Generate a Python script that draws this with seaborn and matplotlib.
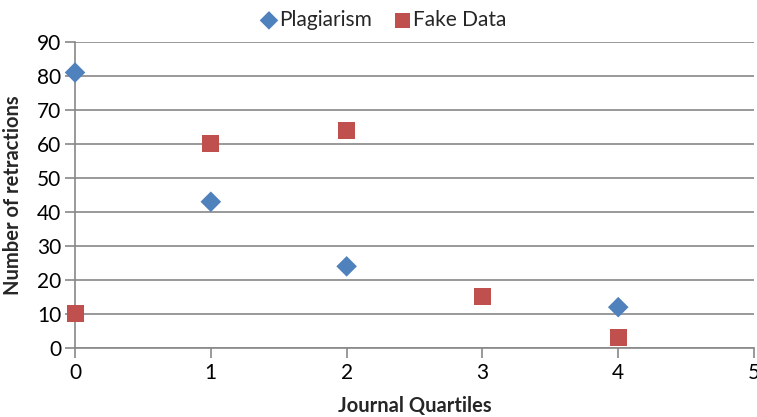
import numpy as np
import pandas as pd
import matplotlib.pyplot as plt
import seaborn as sns

# values
plag_x = [0, 1, 2, 4]
plag_y = [81, 43, 24, 12]
fake_x = [0, 1, 2, 3, 4]
fake_y = [10, 60, 64, 15, 3]
series = ['Plagiarism', 'Fake Data']

COLORS = {'Plagiarism': '#4F81BD', 'Fake Data': '#C0504D'}
MARKERS = {'Plagiarism': 'D', 'Fake Data': 's'}

df = pd.concat([
    pd.DataFrame({'x': plag_x, 'y': plag_y, 'series': 'Plagiarism'}),
    pd.DataFrame({'x': fake_x, 'y': fake_y, 'series': 'Fake Data'}),
])

sns.set_style('white')
plt.rcParams['font.family'] = ['Lato', 'DejaVu Sans']

fig = plt.figure(figsize=(7.57, 4.17), dpi=100)
ax = fig.add_axes([0.0991, 0.1655, 0.897, 0.734])

for name in series:
    sub = df[df['series'] == name]
    sns.scatterplot(data=sub, x='x', y='y', ax=ax, color=COLORS[name],
                    marker=MARKERS[name], s=150 if name == 'Fake Data' else 110,
                    edgecolor='none', label=name, zorder=3, clip_on=False)

ax.set_xlim(0, 5)
ax.set_ylim(0, 90)
ax.set_xticks(range(0, 6))
ax.set_yticks(range(0, 91, 10))
ax.grid(axis='y', color='#888888', linewidth=1.2)
ax.grid(axis='x', visible=False)
for s in ['top', 'right']:
    ax.spines[s].set_visible(False)
for s in ['left', 'bottom']:
    ax.spines[s].set_color('#888888')
    ax.spines[s].set_linewidth(1.2)
ax.tick_params(axis='both', which='both', length=7, width=1.2, color='#888888',
               labelsize=15, labelcolor='black', direction='out',
               left=True, bottom=True)
ax.tick_params(axis='y', pad=3)

ax.set_xlabel('Journal Quartiles', fontsize=14.5, fontweight='bold', labelpad=10)
ax.set_ylabel('Number of retractions', fontsize=14.5, fontweight='bold', labelpad=10)

ax.legend(loc='center', bbox_to_anchor=(0.445, 1.072), ncol=2, frameon=False,
          fontsize=15, handletextpad=-0.5, columnspacing=0.45, borderaxespad=0,
          markerscale=0.9)

plt.savefig('out.png', dpi=100)
plt.close()
